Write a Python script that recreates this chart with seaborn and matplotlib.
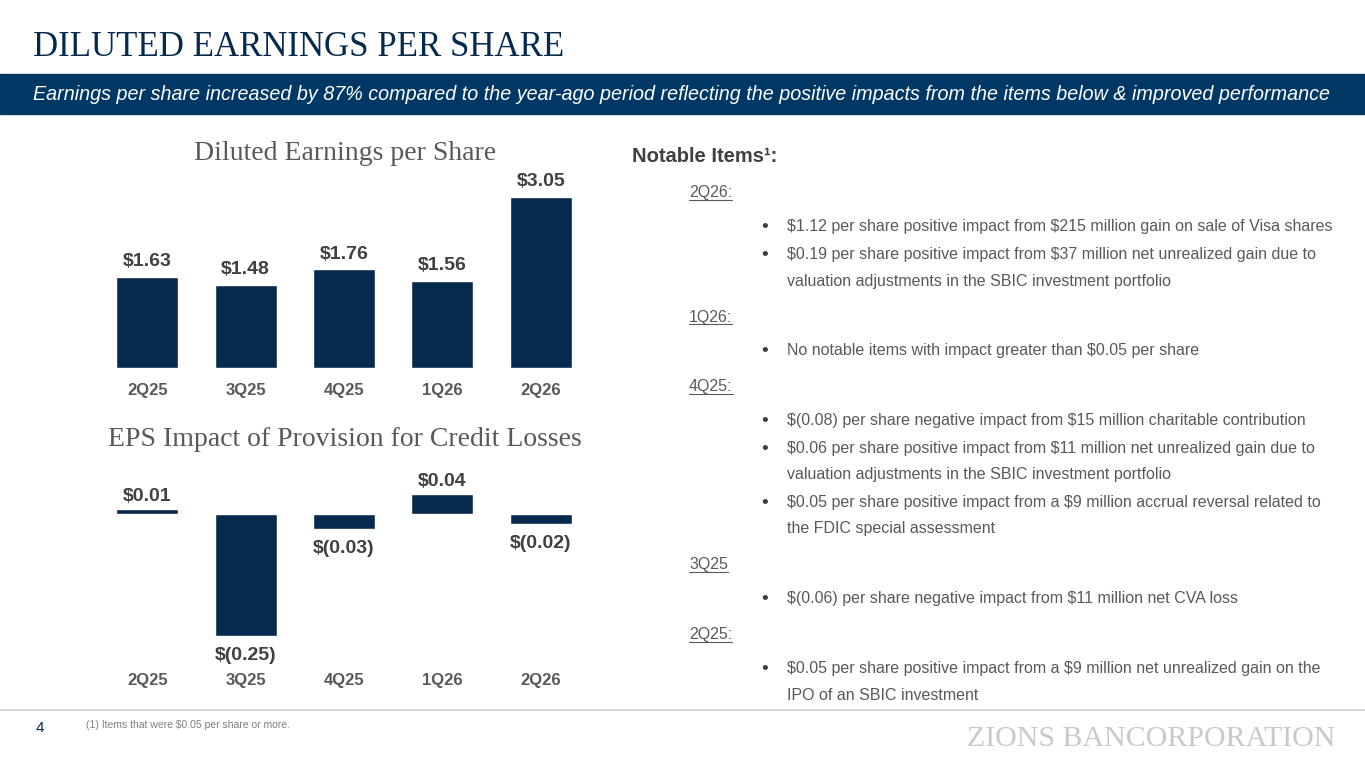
import matplotlib
matplotlib.use("Agg")
import matplotlib.pyplot as plt
import seaborn as sns
import pandas as pd

# data
quarters = ["2Q25", "3Q25", "4Q25", "1Q26", "2Q26"]
eps = [1.63, 1.48, 1.76, 1.56, 3.05]
provision_impact = [0.01, -0.25, -0.03, 0.04, -0.02]

title = "DILUTED EARNINGS PER SHARE"
banner = ("Earnings per share increased by 87% compared to the year-ago period "
          "reflecting the positive impacts from the items below & improved performance")
notes = [
    ("2Q26:", [
        ["$1.12 per share positive impact from $215 million gain on sale of Visa shares"],
        ["$0.19 per share positive impact from $37 million net unrealized gain due to",
         "valuation adjustments in the SBIC investment portfolio"],
    ]),
    ("1Q26:", [
        ["No notable items with impact greater than $0.05 per share"],
    ]),
    ("4Q25:", [
        ["$(0.08) per share negative impact from $15 million charitable contribution"],
        ["$0.06 per share positive impact from $11 million net unrealized gain due to",
         "valuation adjustments in the SBIC investment portfolio"],
        ["$0.05 per share positive impact from a $9 million accrual reversal related to",
         "the FDIC special assessment"],
    ]),
    ("3Q25", [
        ["$(0.06) per share negative impact from $11 million net CVA loss"],
    ]),
    ("2Q25:", [
        ["$0.05 per share positive impact from a $9 million net unrealized gain on the",
         "IPO of an SBIC investment"],
    ]),
]

NAVY = "#062a4e"
BANNER = "#003865"
DARK = "#404040"
GREY = "#595959"
W, H = 1365, 768

sns.set_theme(style="white")
plt.rcParams["font.family"] = ["Liberation Sans", "DejaVu Sans"]
plt.rcParams["text.parse_math"] = False
SANS = ["Liberation Sans", "DejaVu Sans"]
SERIF = ["Liberation Serif", "DejaVu Serif"]

fig = plt.figure(figsize=(W / 100, H / 100), dpi=100)


def px(x, y):
    return x / W, 1 - y / H


def add_ax(left, top, right, bottom):
    return fig.add_axes([left / W, 1 - bottom / H, (right - left) / W, (bottom - top) / H])


def money(v):
    return f"${v:.2f}" if v >= 0 else f"$({abs(v):.2f})"


# header
fig.text(*px(33, 48), title, family=SERIF, fontsize=25, color=NAVY, va="center")
fig.patches.append(plt.Rectangle(px(0, 114), 1, 40 / H, transform=fig.transFigure,
                                 color=BANNER, zorder=0))
fig.text(*px(33, 95), banner, family=SANS, style="italic", fontsize=14.2,
         color="white", va="center")

# top chart
ax1 = add_ax(98, 190, 590, 368)
df1 = pd.DataFrame({"quarter": quarters, "eps": eps})
sns.barplot(data=df1, x="quarter", y="eps", color=NAVY, saturation=1, width=0.63, ax=ax1)
ax1.set_ylim(0, 3.05 * 178 / 171)
for i, v in enumerate(eps):
    ax1.annotate(money(v), (i, v), xytext=(0, 11), textcoords="offset points",
                 ha="center", va="center", fontsize=14, fontweight="bold", color=DARK,
                 annotation_clip=False)
fig.text(*px(345, 154), "Diluted Earnings per Share", family=SERIF, fontsize=20,
         color=GREY, ha="center", va="center")

# bottom chart
ax2 = add_ax(98, 480, 590, 661)
df2 = pd.DataFrame({"quarter": quarters, "impact": provision_impact})
sns.barplot(data=df2, x="quarter", y="impact", color=NAVY, saturation=1, width=0.63, ax=ax2)
ax2.set_ylim(-(661 - 514) / 488, (514 - 480) / 488)
for i, v in enumerate(provision_impact):
    off = 9 if v > 0 else -14
    ax2.annotate(money(v), (i, v), xytext=(0, off), textcoords="offset points",
                 ha="center", va="center", fontsize=14, fontweight="bold", color=DARK,
                 annotation_clip=False)
fig.text(*px(345, 439), "EPS Impact of Provision for Credit Losses", family=SERIF,
         fontsize=20, color=GREY, ha="center", va="center")

for ax, pad in ((ax1, 10.5), (ax2, 9)):
    ax.set_xlabel("")
    ax.set_ylabel("")
    ax.set_yticks([])
    ax.set_xlim(-0.5, 4.5)
    ax.tick_params(axis="x", length=0, pad=pad, labelsize=12, labelcolor=GREY)
    for lab in ax.get_xticklabels():
        lab.set_fontweight("bold")
    sns.despine(ax=ax, left=True, bottom=True)
    ax.patch.set_alpha(0)

# notable items
fig.text(*px(632, 157), "Notable Items\u00b9:", fontsize=14.5, fontweight="bold",
         color=DARK, va="center")
y = 193
underlined = []
for head, bullets in notes:
    t = fig.text(*px(689, y), head, fontsize=11.5, color=GREY, va="center")
    underlined.append(t)
    y += 34
    for lines in bullets:
        fig.text(*px(761, y + 1), "\u2022", fontsize=14, color=DARK, va="center")
        for line in lines:
            fig.text(*px(787, y), line, fontsize=11.5, color=GREY, va="center")
            y += 27
    y += 9

fig.canvas.draw()
inv = fig.transFigure.inverted()
for t in underlined:
    bb = t.get_window_extent()
    (x0, y0), (x1, _) = inv.transform([(bb.x0, bb.y0), (bb.x1, bb.y1)])
    fig.add_artist(plt.Line2D([x0, x1], [y0 + 1 / H, y0 + 1 / H], color=GREY, lw=0.8,
                              transform=fig.transFigure))

# footer
fig.add_artist(plt.Line2D([0, 1], [1 - 710 / H] * 2, color="#cfcfcf", lw=1.2,
                          transform=fig.transFigure))
fig.text(*px(36, 728), "4", fontsize=11, color=NAVY, va="center")
fig.text(*px(86, 725), "(1) Items that were $0.05 per share or more.", fontsize=7.5,
         color="#7f7f7f", va="center")
fig.text(*px(1335, 739), "ZIONS BANCORPORATION", family=SERIF, fontsize=21.5,
         color="#c9c9c9", ha="right", va="center")

fig.savefig("out.png", dpi=100)
